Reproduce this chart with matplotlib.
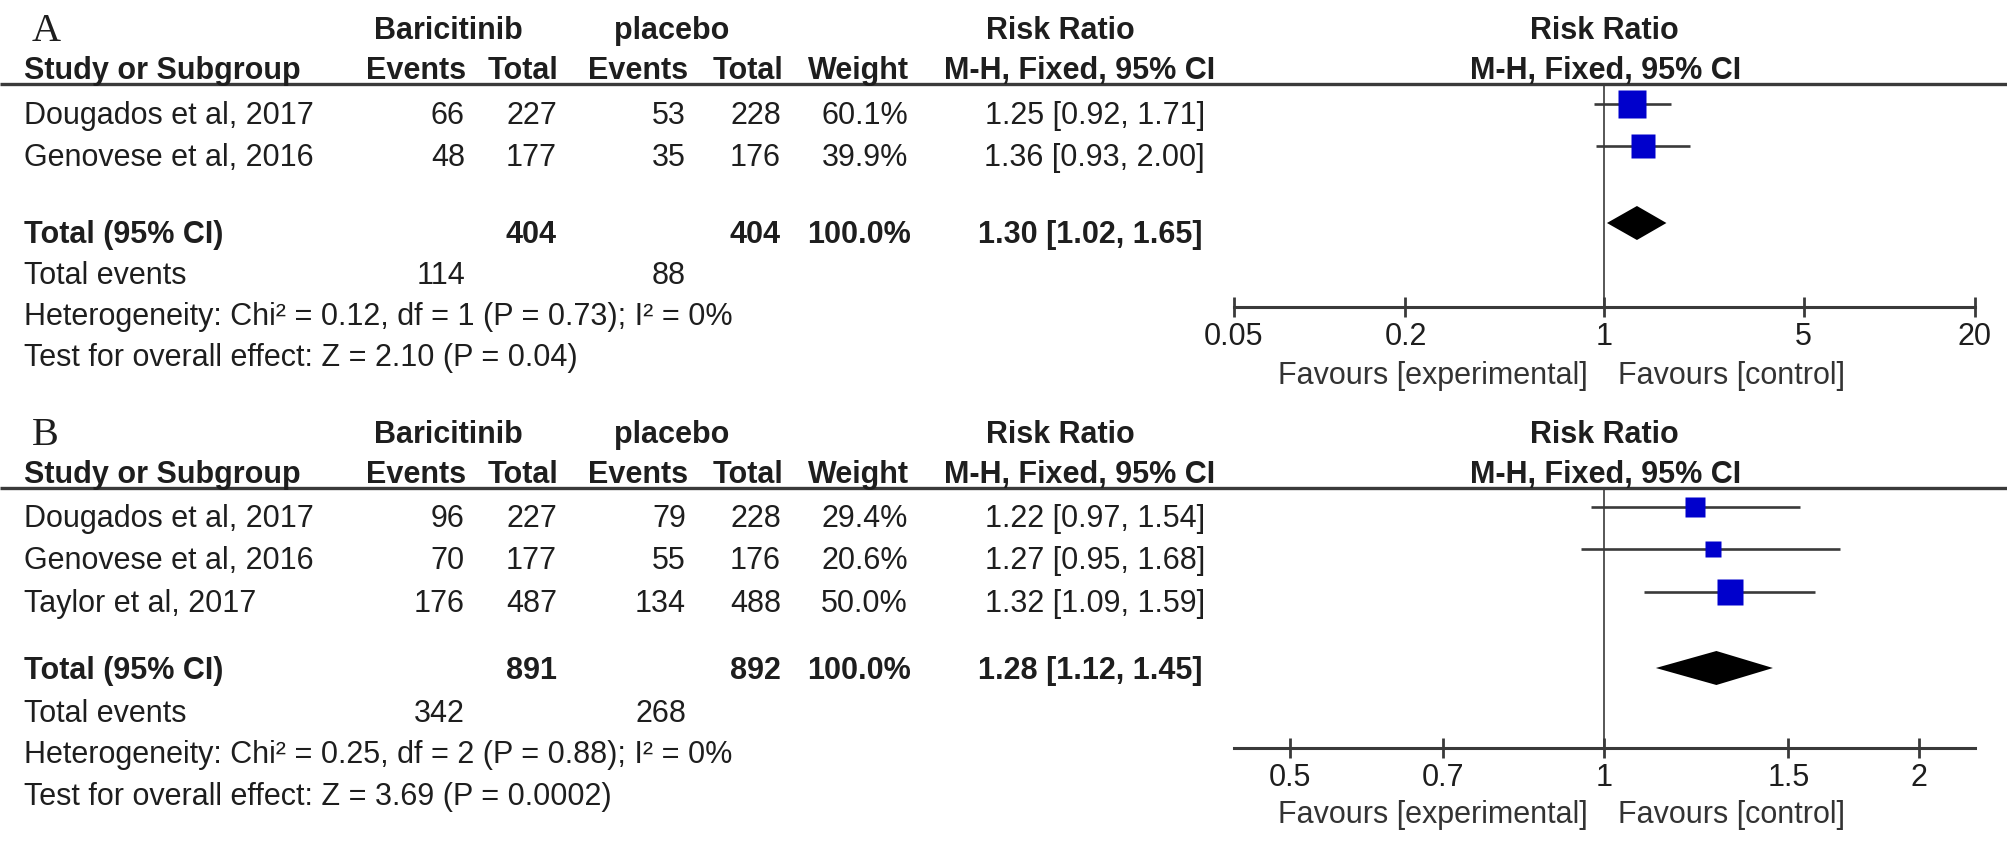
import matplotlib.pyplot as plt
import numpy as np

plt.rcParams['font.family'] = ['Liberation Sans', 'DejaVu Sans']

W, H = 2008, 841

# ---- panel A data ----
studies_a = ["Dougados et al, 2017", "Genovese et al, 2016"]
bari_events_a = [66, 48]
bari_total_a = [227, 177]
plac_events_a = [53, 35]
plac_total_a = [228, 176]
weight_a = [60.1, 39.9]
rr_a = [1.25, 1.36]
lo_a = [0.92, 0.93]
hi_a = [1.71, 2.00]
sum_total_a = [404, 404]
pooled_a = [1.30, 1.02, 1.65]
sum_events_a = [114, 88]
het_a = "Heterogeneity: Chi² = 0.12, df = 1 (P = 0.73); I² = 0%"
test_a = "Test for overall effect: Z = 2.10 (P = 0.04)"
ticks_a = [0.05, 0.2, 1, 5, 20]
ticklabels_a = ["0.05", "0.2", "1", "5", "20"]

# ---- panel B data ----
studies_b = ["Dougados et al, 2017", "Genovese et al, 2016", "Taylor et al, 2017"]
bari_events_b = [96, 70, 176]
bari_total_b = [227, 177, 487]
plac_events_b = [79, 55, 134]
plac_total_b = [228, 176, 488]
weight_b = [29.4, 20.6, 50.0]
rr_b = [1.22, 1.27, 1.32]
lo_b = [0.97, 0.95, 1.09]
hi_b = [1.54, 1.68, 1.59]
sum_total_b = [891, 892]
pooled_b = [1.28, 1.12, 1.45]
sum_events_b = [342, 268]
het_b = "Heterogeneity: Chi² = 0.25, df = 2 (P = 0.88); I² = 0%"
test_b = "Test for overall effect: Z = 3.69 (P = 0.0002)"
ticks_b = [0.5, 0.7, 1, 1.5, 2]
ticklabels_b = ["0.5", "0.7", "1", "1.5", "2"]

FS = 22
TXT = '#1e1e1e'
LINE = '#3a3a3a'

# column x positions (pixels)
X_STUDY = 24
X_EV1, X_TOT1, X_EV2, X_TOT2, X_W, X_CI = 465, 557, 686, 781, 908, 1205


def txt(ax, x, y, s, ha='left', bold=False, **kw):
    ax.text(x, y + 11, s, ha=ha, va='baseline', fontsize=FS, color=TXT,
            fontweight='bold' if bold else 'normal', **kw)


def draw_panel(fig, ax, label, top, rows, total_y, events_y, het_y, test_y,
               studies, be, bt, pe, pt, wt, rr, lo, hi, sum_total, pooled,
               sum_events, het, test, ticks, ticklabels, xlim, axis_y, fav_y,
               diamond_y):
    # panel letter
    ax.text(32, top + 13, label, fontsize=29, family=['Liberation Serif', 'DejaVu Serif'],
            color=TXT, va='baseline')
    # header row 1
    txt(ax, 448, top, "Baricitinib", ha='center', bold=True)
    txt(ax, 672, top, "placebo", ha='center', bold=True)
    txt(ax, 1060, top, "Risk Ratio", ha='center', bold=True)
    txt(ax, 1604, top, "Risk Ratio", ha='center', bold=True)
    # header row 2
    h2 = top + 40
    txt(ax, X_STUDY, h2, "Study or Subgroup", bold=True)
    txt(ax, X_EV1 + 1, h2, "Events", ha='right', bold=True)
    txt(ax, X_TOT1 + 1, h2, "Total", ha='right', bold=True)
    txt(ax, X_EV2 + 2, h2, "Events", ha='right', bold=True)
    txt(ax, X_TOT2 + 2, h2, "Total", ha='right', bold=True)
    txt(ax, X_W + 1, h2, "Weight", ha='right', bold=True)
    txt(ax, 1080, h2, "M-H, Fixed, 95% CI", ha='center', bold=True)
    txt(ax, 1606, h2, "M-H, Fixed, 95% CI", ha='center', bold=True)
    line_y = top + 56
    ax.plot([0, W], [line_y, line_y], color=LINE, lw=2.4, solid_capstyle='butt')

    for i, y in enumerate(rows):
        txt(ax, X_STUDY, y, studies[i])
        txt(ax, X_EV1, y, str(be[i]), ha='right')
        txt(ax, X_TOT1, y, str(bt[i]), ha='right')
        txt(ax, X_EV2, y, str(pe[i]), ha='right')
        txt(ax, X_TOT2, y, str(pt[i]), ha='right')
        txt(ax, X_W, y, f"{wt[i]:.1f}%", ha='right')
        txt(ax, X_CI, y, f"{rr[i]:.2f} [{lo[i]:.2f}, {hi[i]:.2f}]", ha='right')

    txt(ax, X_STUDY, total_y, "Total (95% CI)", bold=True)
    txt(ax, X_TOT1, total_y, str(sum_total[0]), ha='right', bold=True)
    txt(ax, X_TOT2, total_y, str(sum_total[1]), ha='right', bold=True)
    txt(ax, X_W + 3, total_y, "100.0%", ha='right', bold=True)
    txt(ax, X_CI - 2, total_y,
        f"{pooled[0]:.2f} [{pooled[1]:.2f}, {pooled[2]:.2f}]", ha='right', bold=True)
    txt(ax, X_STUDY, events_y, "Total events")
    txt(ax, X_EV1, events_y, str(sum_events[0]), ha='right')
    txt(ax, X_EV2, events_y, str(sum_events[1]), ha='right')
    txt(ax, X_STUDY, het_y, het)
    txt(ax, X_STUDY, test_y, test)

    # forest plot axes, pixel rows map to data y
    x0, x1 = 1234, 1975
    fa = fig.add_axes([x0 / W, 1 - axis_y / H, (x1 - x0) / W, (axis_y - line_y) / H])
    fa.set_xscale('log')
    fa.set_xlim(*xlim)
    fa.set_ylim(axis_y, line_y)
    fa.patch.set_alpha(0)
    for s in ['top', 'left', 'right']:
        fa.spines[s].set_visible(False)
    fa.spines['bottom'].set_linewidth(2.2)
    fa.spines['bottom'].set_color(LINE)
    fa.set_yticks([])
    fa.set_xticks(ticks)
    fa.set_xticklabels(ticklabels)
    fa.minorticks_off()
    fa.tick_params(axis='x', direction='inout', length=14, width=2, color=LINE,
                   labelsize=FS, labelcolor=TXT, pad=4)
    fa.plot([1, 1], [line_y, axis_y], color=LINE, lw=1.2)

    for i, y in enumerate(rows):
        my = y - 9
        fa.plot([lo[i], hi[i]], [my, my], color=LINE, lw=1.9, solid_capstyle='butt')
        fa.plot(rr[i], my, marker='s', color='#0000cc', mec='none',
                ms=3.7 * np.sqrt(wt[i]) / 1.389)
    dy = diamond_y
    fa.fill([pooled[1], pooled[0], pooled[2], pooled[0]],
            [dy, dy - 17, dy, dy + 17], color='black', lw=0)

    ax.text(1588, fav_y + 11, "Favours [experimental]", ha='right', va='baseline',
            fontsize=FS, color='#333333')
    ax.text(1618, fav_y + 11, "Favours [control]", ha='left', va='baseline',
            fontsize=FS, color='#333333')


fig = plt.figure(figsize=(W / 100, H / 100), dpi=100)
ax = fig.add_axes([0, 0, 1, 1])
ax.set_xlim(0, W)
ax.set_ylim(H, 0)
ax.axis('off')

draw_panel(fig, ax, "A", 28, [113, 155], 232, 273, 314, 355,
           studies_a, bari_events_a, bari_total_a, plac_events_a, plac_total_a,
           weight_a, rr_a, lo_a, hi_a, sum_total_a, pooled_a, sum_events_a,
           het_a, test_a, ticks_a, ticklabels_a, (0.05, 20), 307, 373, 223)

draw_panel(fig, ax, "B", 432, [516, 558, 601], 668, 711, 752, 794,
           studies_b, bari_events_b, bari_total_b, plac_events_b, plac_total_b,
           weight_b, rr_b, lo_b, hi_b, sum_total_b, pooled_b, sum_events_b,
           het_b, test_b, ticks_b, ticklabels_b, (10 ** -0.355, 10 ** 0.355), 748, 812,
           668)

fig.savefig('out.png', dpi=100)
